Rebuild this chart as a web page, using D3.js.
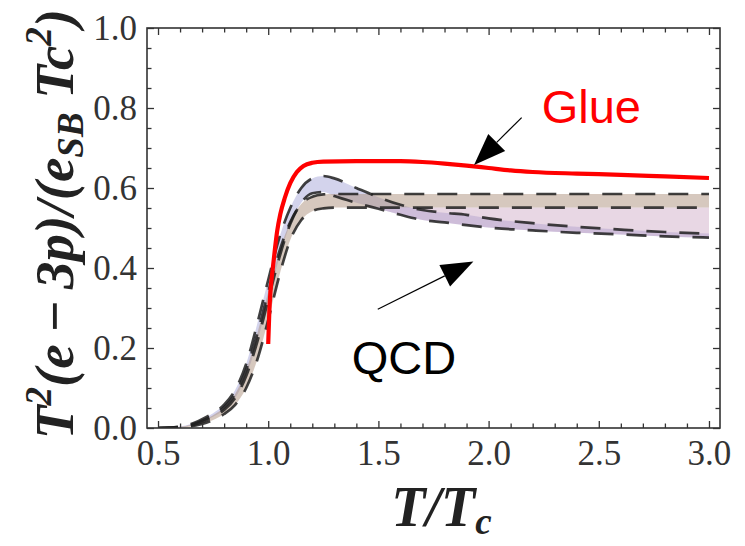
<!DOCTYPE html>
<html>
<head>
<meta charset="utf-8">
<script src="https://cdn.jsdelivr.net/npm/d3@7"></script>
<style>
  html, body { margin: 0; padding: 0; background: #fff; }
  svg { display: block; }
  .tick text { font-family: 'Liberation Serif', 'Times New Roman', serif; fill: #333; }
  .lbl { font-family: 'Liberation Serif', 'Times New Roman', serif; font-weight: bold; font-style: italic; fill: #222; }
</style>
</head>
<body>
<svg id="chart" width="745" height="546"></svg>
<script>
// Glue (pure gauge) curve
const glueT = [1.0, 1.005, 1.01, 1.02, 1.03, 1.04, 1.055, 1.075, 1.1, 1.13, 1.16, 1.2, 1.25, 1.4, 1.6, 1.7, 1.8, 1.9, 2.0, 2.1, 2.2, 2.4, 2.6, 2.8, 3.0]
const glueY = [0.21, 0.29, 0.34, 0.395, 0.445, 0.49, 0.535, 0.575, 0.612, 0.64, 0.655, 0.663, 0.666, 0.667, 0.667, 0.665, 0.661, 0.656, 0.65, 0.644, 0.64, 0.636, 0.633, 0.629, 0.625]

// QCD bands: shared T grid, four dashed edges
const qcdT = [0.5, 0.55, 0.6, 0.65, 0.7, 0.75, 0.8, 0.85, 0.9, 0.95, 1.0, 1.05, 1.1, 1.15, 1.2, 1.25, 1.3, 1.4, 1.5, 1.6, 1.7, 1.8, 1.9, 2.0, 2.2, 2.4, 2.6, 2.8, 3.0]
const bandAUpper = [0, 0.001, 0.003, 0.008, 0.018, 0.032, 0.052, 0.085, 0.145, 0.235, 0.34, 0.44, 0.515, 0.56, 0.578, 0.584, 0.585, 0.585, 0.585, 0.585, 0.585, 0.585, 0.585, 0.585, 0.585, 0.585, 0.585, 0.585, 0.585]
const bandALower = [0, 0, 0.001, 0.004, 0.01, 0.02, 0.035, 0.058, 0.1, 0.17, 0.27, 0.38, 0.47, 0.52, 0.542, 0.549, 0.551, 0.551, 0.551, 0.551, 0.551, 0.551, 0.551, 0.551, 0.551, 0.551, 0.551, 0.551, 0.551]
const bandBUpper = [0, 0.001, 0.004, 0.01, 0.022, 0.037, 0.058, 0.095, 0.16, 0.26, 0.37, 0.475, 0.55, 0.6, 0.624, 0.63, 0.624, 0.6, 0.577, 0.558, 0.545, 0.538, 0.533, 0.524, 0.512, 0.503, 0.496, 0.49, 0.486]
const bandBLower = [0, 0.0005, 0.002, 0.006, 0.015, 0.028, 0.045, 0.075, 0.13, 0.215, 0.32, 0.425, 0.51, 0.563, 0.587, 0.59, 0.58, 0.563, 0.548, 0.533, 0.52, 0.514, 0.507, 0.501, 0.494, 0.488, 0.484, 0.479, 0.476]

// ticks
const xMajor = [0.5, 1.0, 1.5, 2.0, 2.5, 3.0]
const yMajor = [0.0, 0.2, 0.4, 0.6, 0.8, 1.0]

// annotations [T, value]
const glueArrow = [[2.15, 0.776], [1.934, 0.6575]]
const qcdArrow = [[1.497, 0.297], [1.931, 0.416]]
const glueLabel = [2.241, 0.7625]
const qcdLabel = [1.379, 0.135]

const margin = { left: 147, top: 28, right: 25, bottom: 118 }
const W = 745, H = 546
const innerW = W - margin.left - margin.right
const innerH = H - margin.top - margin.bottom

const svg = d3.select('#chart')
const g = svg.append('g').attr('transform', `translate(${margin.left},${margin.top})`)

const x = d3.scaleLinear().domain([0.45, 3.05]).range([0, innerW])
const y = d3.scaleLinear().domain([0, 1]).range([innerH, 0])

svg.append('defs').append('clipPath').attr('id', 'clip')
  .append('rect').attr('width', innerW).attr('height', innerH)

const plot = g.append('g').attr('clip-path', 'url(#clip)')

const qcd = qcdT.map((t, i) => ({
  t, a1: bandAUpper[i], a2: bandALower[i], b1: bandBUpper[i], b2: bandBLower[i]
}))

const curve = d3.curveMonotoneX
const area = (lo, hi) => d3.area().curve(curve).x(d => x(d.t)).y0(d => y(lo(d))).y1(d => y(hi(d)))

// fills
plot.append('path').datum(qcd)
  .attr('d', area(d => d.b2, d => d.b1))
  .attr('fill', 'rgb(180,180,222)').attr('fill-opacity', 0.58)
plot.append('path').datum(qcd)
  .attr('d', area(d => d.b2, d => Math.max(d.a2, d.b2)))
  .attr('fill', 'rgb(200,160,190)').attr('fill-opacity', 0.42)
plot.append('path').datum(qcd)
  .attr('d', area(d => d.a2, d => d.a1))
  .attr('fill', 'rgb(170,140,120)').attr('fill-opacity', 0.48)

// dashed edges
const line = key => d3.line().curve(curve).x(d => x(d.t)).y(d => y(d[key]))
;['a1', 'a2', 'b1', 'b2'].forEach(k => {
  plot.append('path').datum(qcd)
    .attr('d', line(k))
    .attr('fill', 'none')
    .attr('stroke', 'rgba(30,30,30,0.85)')
    .attr('stroke-width', 2.7)
    .attr('stroke-dasharray', '20,13')
})

// glue
const glue = glueT.map((t, i) => ({ t, v: glueY[i] }))
plot.append('path').datum(glue)
  .attr('d', d3.line().curve(curve).x(d => x(d.t)).y(d => y(d.v)))
  .attr('fill', 'none')
  .attr('stroke', '#ff0000')
  .attr('stroke-width', 4.2)

// axes (ticks inward)
const minorX = d3.range(5, 31).map(v => v / 10).filter(v => !xMajor.some(m => Math.abs(m - v) < 1e-9))
const minorY = d3.range(0, 21).map(v => v / 20).filter(v => !yMajor.some(m => Math.abs(m - v) < 1e-9))

function drawAxis(axisFn, scale, major, minor, tr, withLabels, fmt, pad) {
  const ga = g.append('g').attr('transform', tr)
  ga.call(axisFn(scale).tickValues(major).tickSize(-7).tickPadding(pad).tickFormat(withLabels ? fmt : ''))
  const gm = g.append('g').attr('transform', tr)
  gm.call(axisFn(scale).tickValues(minor).tickSize(-4.5).tickFormat(''))
  ;[ga, gm].forEach(s => {
    s.select('.domain').remove()
    s.selectAll('.tick line').attr('stroke', '#333').attr('stroke-width', 1.3)
  })
  ga.selectAll('.tick text').attr('font-size', 35)
  return ga
}
const f1 = d3.format('.1f')
drawAxis(d3.axisBottom, x, xMajor, minorX, `translate(0,${innerH})`, true, f1, 12)
drawAxis(d3.axisTop, x, xMajor, minorX, 'translate(0,0)', false, f1, 0)
drawAxis(d3.axisLeft, y, yMajor, minorY, 'translate(0,0)', true, f1, 10)
drawAxis(d3.axisRight, y, yMajor, minorY, `translate(${innerW},0)`, false, f1, 0)

// frame
g.append('rect').attr('width', innerW).attr('height', innerH)
  .attr('fill', 'none').attr('stroke', '#333').attr('stroke-width', 1.6)

// arrows
function arrow(pts) {
  const [p0, p1] = pts.map(([t, v]) => [margin.left + x(t), margin.top + y(v)])
  const ang = Math.atan2(p1[1] - p0[1], p1[0] - p0[0])
  const L = 32, hw = 12
  const bx = p1[0] - L * Math.cos(ang), by = p1[1] - L * Math.sin(ang)
  svg.append('line')
    .attr('x1', p0[0]).attr('y1', p0[1]).attr('x2', bx).attr('y2', by)
    .attr('stroke', '#000').attr('stroke-width', 1.2)
  const nx = -Math.sin(ang) * hw, ny = Math.cos(ang) * hw
  svg.append('polygon')
    .attr('points', [[p1[0], p1[1]], [bx + nx, by + ny], [bx - nx, by - ny]].map(p => p.join(',')).join(' '))
    .attr('fill', '#000')
}
arrow(glueArrow)
arrow(qcdArrow)

svg.append('text')
  .attr('x', margin.left + x(glueLabel[0])).attr('y', margin.top + y(glueLabel[1]))
  .attr('font-family', "'Liberation Sans', Arial, sans-serif").attr('font-size', 47)
  .attr('fill', '#ff0000').text('Glue')
svg.append('text')
  .attr('x', margin.left + x(qcdLabel[0])).attr('y', margin.top + y(qcdLabel[1]))
  .attr('font-family', "'Liberation Sans', Arial, sans-serif").attr('font-size', 47)
  .attr('fill', '#000').text('QCD')

// x label
const xl = svg.append('text').attr('class', 'lbl')
  .attr('x', margin.left + innerW / 2 + 8).attr('y', 526)
  .attr('text-anchor', 'middle').attr('font-size', 56)
xl.append('tspan').text('T/T')
xl.append('tspan').attr('font-size', 37).attr('dy', 8).text('c')

// y label
const yl = svg.append('text').attr('class', 'lbl')
  .attr('transform', `translate(73,${margin.top + innerH / 2 - 4}) rotate(-90)`)
  .attr('text-anchor', 'middle').attr('font-size', 55)
yl.append('tspan').text('T')
yl.append('tspan').attr('font-size', 37).attr('dy', -22).text('2')
yl.append('tspan').attr('dy', 22).text('(e\u2009\u2212\u20093p)/(e')
yl.append('tspan').attr('font-size', 37).attr('dy', 10).text('SB')
yl.append('tspan').attr('dy', -10).text(' Tc')
yl.append('tspan').attr('font-size', 37).attr('dy', -22).text('2')
yl.append('tspan').attr('dy', 22).text(')')
</script>
</body>
</html>
